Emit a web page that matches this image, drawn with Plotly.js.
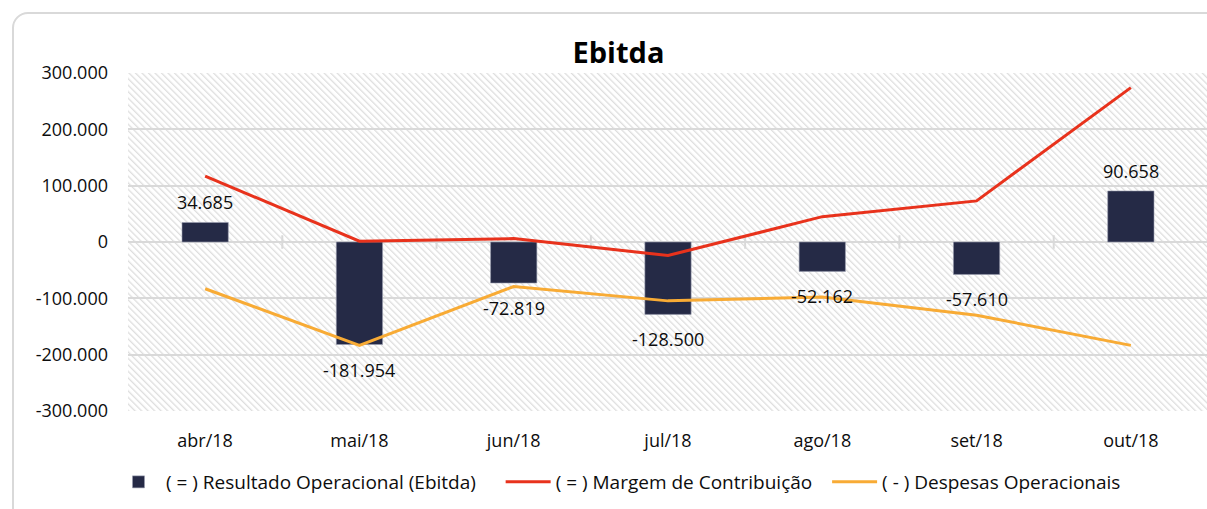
<!DOCTYPE html>
<html>
<head>
<meta charset="utf-8">
<script src="https://cdn.plot.ly/plotly-3.0.1.min.js"></script>
<style>
  html, body { margin: 0; padding: 0; width: 1207px; height: 509px; overflow: hidden; background: #fff; }
  #frame { position: absolute; left: 12px; top: 12px; width: 1240px; height: 540px;
           border: 2px solid #d9d9d9; border-radius: 16px; background: #fff; box-sizing: border-box; }
  #chart { position: absolute; left: 0; top: 0; width: 1208px; height: 509px; }
</style>
</head>
<body>
<div id="frame"></div>
<div id="chart"></div>
<script>
// ---- data ----
const categories = ['abr/18', 'mai/18', 'jun/18', 'jul/18', 'ago/18', 'set/18', 'out/18'];
const ebitda   = [34685, -181954, -72819, -128500, -52162, -57610, 90658];
const margem   = [117000, 1500, 6000, -24000, 45000, 73000, 274000];
const despesas = [-83000, -183500, -79000, -104500, -97500, -130000, -183500];
const yTickVals = [300000, 200000, 100000, 0, -100000, -200000, -300000];
const yTickText = ['300.000', '200.000', '100.000', '0', '-100.000', '-200.000', '-300.000'];
const seriesNames = ['( = ) Resultado Operacional (Ebitda)', '( = ) Margem de Contribuição', '( - ) Despesas Operacionais'];

function fmt(v) {
  const s = Math.abs(v).toString().replace(/\B(?=(\d{3})+(?!\d))/g, '.');
  return (v < 0 ? '-' : '') + s;
}

const FONT = 'Open Sans, Noto Sans, sans-serif';
const TXT = '#0d0d0d';

const hatchSvg = '<svg xmlns="http://www.w3.org/2000/svg" width="1080" height="338">' +
  '<defs><pattern id="h" width="4.6" height="20" patternUnits="userSpaceOnUse" patternTransform="rotate(-45)">' +
  '<rect x="0" y="0" width="1.3" height="20" fill="#dedede"/></pattern></defs>' +
  '<rect width="1080" height="338" fill="#ffffff"/><rect width="1080" height="338" fill="url(#h)"/></svg>';
const hatchUrl = 'data:image/svg+xml;charset=utf-8,' + encodeURIComponent(hatchSvg);

const traces = [
  { type: 'bar', x: categories, y: ebitda, name: seriesNames[0] + '\u00a0\u00a0\u00a0\u00a0', width: 0.3,
    marker: { color: '#252a46', line: { color: '#9a9db0', width: 0.6 } }, hoverinfo: 'skip' },
  { type: 'scatter', mode: 'lines', x: categories, y: margem, name: seriesNames[1] + '\u00a0\u00a0',
    line: { color: '#e8321c', width: 3 }, hoverinfo: 'skip' },
  { type: 'scatter', mode: 'lines', x: categories, y: despesas, name: seriesNames[2],
    line: { color: '#f8ab35', width: 3 }, hoverinfo: 'skip' }
];

const annotations = categories.map((c, i) => ({
  x: c, y: ebitda[i], xref: 'x', yref: 'y', text: fmt(ebitda[i]), showarrow: false,
  yanchor: ebitda[i] >= 0 ? 'bottom' : 'top', yshift: ebitda[i] >= 0 ? 6 : -11,
  font: { family: FONT, size: 18, color: TXT }
}));

const shapes = [];
for (let i = 0; i < categories.length - 1; i++) {
  shapes.push({ type: 'line', xref: 'x', yref: 'y', x0: i + 0.5, x1: i + 0.5, y0: -12000, y1: 12000,
    line: { color: '#d9d9d9', width: 2 }, layer: 'below' });
}

const layout = {
  width: 1208, height: 509,
  margin: { l: 128, r: 0, t: 73, b: 98 },
  paper_bgcolor: 'rgba(0,0,0,0)', plot_bgcolor: 'rgba(0,0,0,0)',
  title: { text: '<b>Ebitda</b>', font: { family: FONT, size: 29, color: '#000' },
           xref: 'container', x: 0.512, xanchor: 'center', yref: 'container', y: 0.897, yanchor: 'middle' },
  xaxis: { type: 'category', showgrid: false, zeroline: false, showline: false, ticks: '',
           ticklabelstandoff: 17, tickfont: { family: FONT, size: 18, color: TXT }, fixedrange: true },
  yaxis: { range: [-300000, 300000], tickvals: yTickVals, ticktext: yTickText,
           showgrid: true, gridcolor: '#d9d9d9', gridwidth: 2, zeroline: true, zerolinecolor: '#d9d9d9', zerolinewidth: 2,
           ticks: '', ticklabelstandoff: 19, tickfont: { family: FONT, size: 18, color: TXT }, fixedrange: true },
  legend: { orientation: 'h', xref: 'container', x: 0.512, xanchor: 'center', yref: 'container', y: 0.053, yanchor: 'middle',
            font: { family: FONT, size: 19, color: TXT }, itemwidth: 45, traceorder: 'normal' },
  images: [{ source: hatchUrl, xref: 'paper', yref: 'paper', x: 0, y: 1, sizex: 1, sizey: 1,
             xanchor: 'left', yanchor: 'top', sizing: 'stretch', layer: 'below' }],
  annotations: annotations,
  shapes: shapes,
  bargap: 0.7,
  showlegend: true
};

Plotly.newPlot('chart', traces, layout, { displayModeBar: false, staticPlot: true });
</script>
</body>
</html>
